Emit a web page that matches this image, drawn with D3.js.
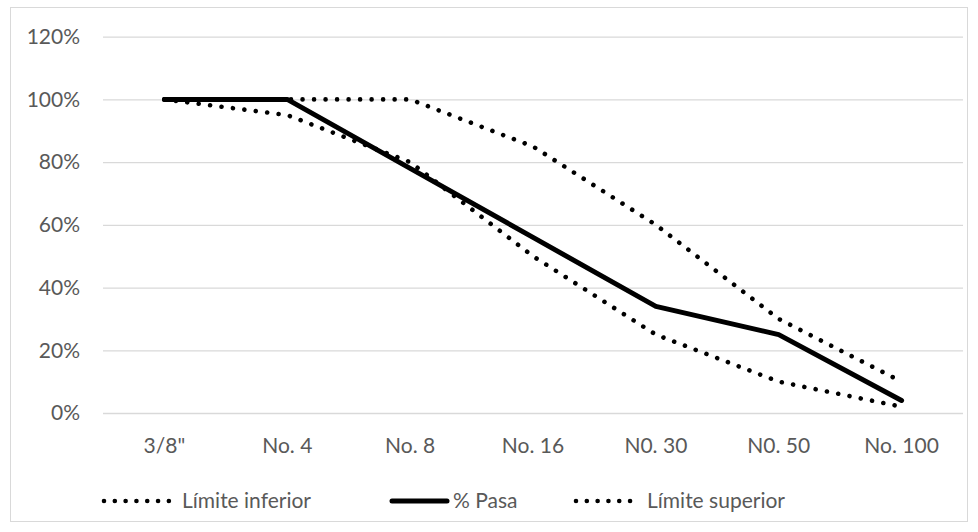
<!DOCTYPE html>
<html>
<head>
<meta charset="utf-8">
<script src="https://cdn.jsdelivr.net/npm/d3@7"></script>
<style>
  html, body { margin: 0; padding: 0; background: #fff; }
  svg { display: block; }
  text { font-family: Lato, "Open Sans", sans-serif; fill: #595959; }
</style>
</head>
<body>
<svg id="chart" width="978" height="532"></svg>
<script>
// Sieve sizes along the grading curve
const sieves = ['3/8"', "No. 4", "No. 8", "No. 16", "N0. 30", "N0. 50", "No. 100"];
// Percent passing per sieve
const limiteInferior = [100, 95, 80, 50, 25, 10, 2];
const pasa = [100, 100, 78, 56, 34, 25, 4];
const limiteSuperior = [100, 100, 100, 85, 60, 30, 10];
const yTicks = [0, 20, 40, 60, 80, 100, 120];

const seriesList = [
  { name: "Límite inferior", values: limiteInferior, dotted: true },
  { name: "% Pasa", values: pasa, dotted: false },
  { name: "Límite superior", values: limiteSuperior, dotted: true }
];

const svg = d3.select("#chart");

// Chart frame
svg.append("rect")
  .attr("x", 10.5).attr("y", 7.5)
  .attr("width", 957).attr("height", 514)
  .attr("fill", "#fff").attr("stroke", "#d9d9d9").attr("stroke-width", 1);

const plot = { left: 103, right: 963, top: 36.7, bottom: 413 };

const x = d3.scaleBand().domain(sieves).range([plot.left, plot.right]);
const y = d3.scaleLinear().domain([0, 120]).range([plot.bottom, plot.top]);

// Horizontal gridlines + percentage labels
const yAxis = d3.axisLeft(y)
  .tickValues(yTicks)
  .tickSize(-(plot.right - plot.left))
  .tickPadding(23)
  .tickFormat(d => d + "%");

const gy = svg.append("g")
  .attr("transform", `translate(${plot.left},0)`)
  .call(yAxis);
gy.select(".domain").remove();
gy.selectAll(".tick line").attr("stroke", "#d9d9d9").attr("stroke-width", 1.3);
gy.selectAll(".tick text")
  .attr("font-size", 21)
  .attr("fill", "#595959");

// Category labels
const xAxis = d3.axisBottom(x).tickSize(0).tickPadding(25);
const gx = svg.append("g")
  .attr("transform", `translate(0,${plot.bottom})`)
  .call(xAxis);
gx.select(".domain").remove();
gx.selectAll(".tick text")
  .attr("font-size", 21)
  .attr("fill", "#595959");

// Series lines
const line = d3.line()
  .x((d, i) => x(sieves[i]) + x.bandwidth() / 2)
  .y(d => y(d));

function styleStroke(sel, dotted, gap) {
  sel.attr("fill", "none").attr("stroke", "#000");
  if (dotted) {
    sel.attr("stroke-width", 4.6)
      .attr("stroke-linecap", "round")
      .attr("stroke-dasharray", `0.01 ${gap || 11.5}`);
  } else {
    sel.attr("stroke-width", 5)
      .attr("stroke-linecap", "round")
      .attr("stroke-linejoin", "round");
  }
  return sel;
}

seriesList.forEach(s => {
  svg.append("path")
    .datum(s.values)
    .attr("d", line)
    .call(styleStroke, s.dotted);
});

// Legend
const legendY = 501;
const legendItems = [
  { s: seriesList[0], x0: 104, x1: 169, tx: 182 },
  { s: seriesList[1], x0: 392, x1: 447, tx: 453 },
  { s: seriesList[2], x0: 576, x1: 638, tx: 647 }
];
legendItems.forEach(it => {
  svg.append("line")
    .attr("x1", it.x0).attr("x2", it.x1)
    .attr("y1", legendY).attr("y2", legendY)
    .call(styleStroke, it.s.dotted, 10.8);
  svg.append("text")
    .attr("x", it.tx).attr("y", legendY)
    .attr("dy", "0.35em")
    .attr("font-size", 21)
    .text(it.s.name);
});
</script>
</body>
</html>
